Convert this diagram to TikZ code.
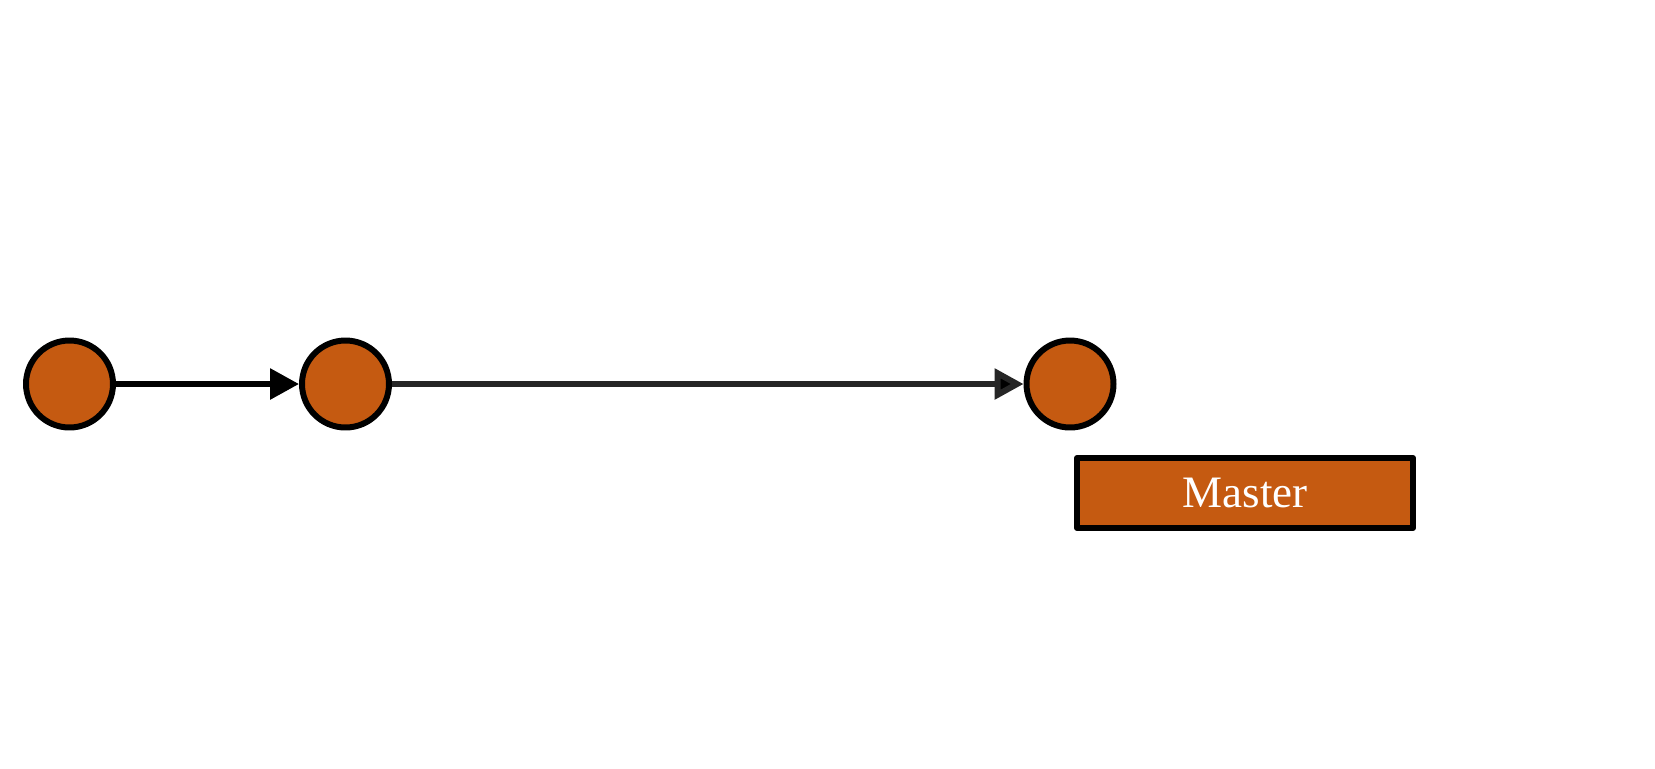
\documentclass[tikz,border=0pt]{standalone}
\usepackage{fontspec}
\setmainfont{Liberation Serif}
\usetikzlibrary{arrows.meta}
\definecolor{commitorange}{RGB}{197,90,17}
\definecolor{arrowgray}{RGB}{38,38,38}
\tikzset{
  commit/.style={shape=circle,draw=black,fill=commitorange,line width=3.4pt,minimum size=1.74cm,inner sep=0pt},
  branch/.style={shape=rectangle,draw=black,fill=commitorange,line width=3.4pt,line join=round,minimum width=6.72cm,minimum height=1.4cm,text=white,font=\fontsize{25.6}{30}\selectfont},
  link/.style={line width=3.4pt,-{Triangle[length=0.58cm,width=0.6cm]}}
}
\begin{document}
\begin{tikzpicture}[x=0.02cm,y=-0.02cm]
  \useasboundingbox (0,0) rectangle (1655,768);
  \node[commit] (commitA) at (69.5,384) {};
  \node[commit] (commitB) at (345.5,384) {};
  \node[commit] (commitC) at (1070,384) {};
  \node[branch] (master) at (1245,493) {Master};

  \path [link,draw=black] (commitA) edge (commitB);
  \path [link,draw=arrowgray] (commitB) edge (commitC);
\end{tikzpicture}
\end{document}
